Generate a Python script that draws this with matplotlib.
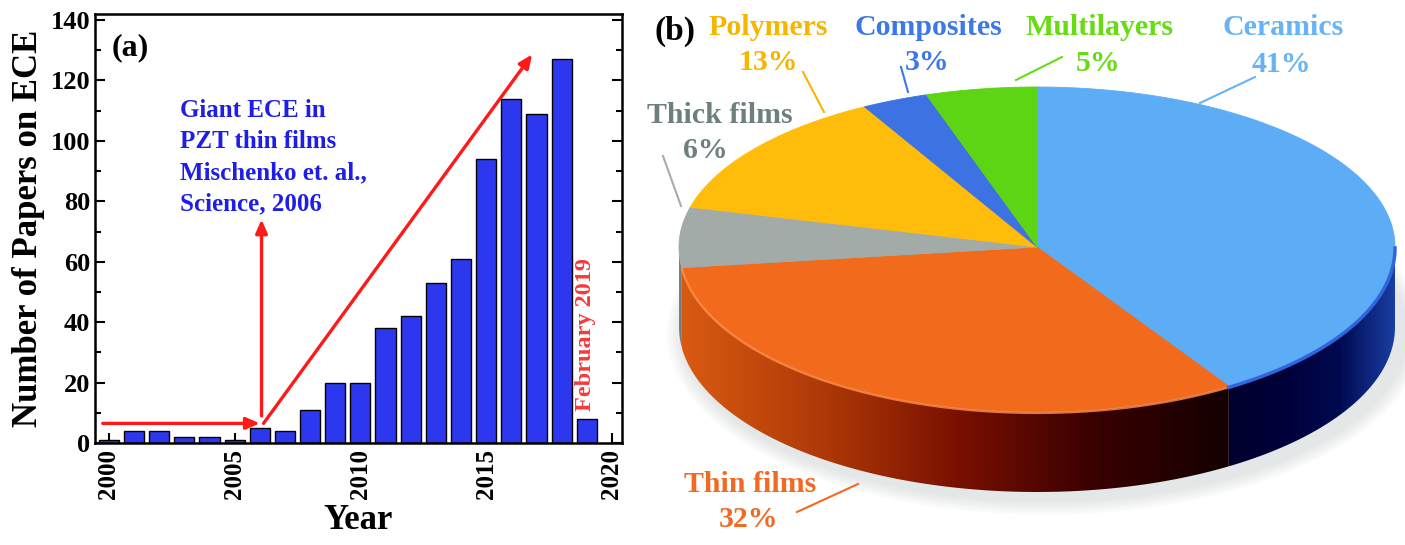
import numpy as np
import matplotlib.pyplot as plt
from matplotlib.patches import Polygon, Ellipse
from matplotlib.colors import LinearSegmentedColormap
from matplotlib.ticker import MultipleLocator

# panel (a): papers per year
years = list(range(2000, 2020))
papers = [1, 4, 4, 2, 2, 1, 5, 4, 11, 20, 20, 38, 42, 53, 61, 94, 114, 109, 127, 8]

# panel (b): share of papers by material type (clockwise from top)
materials = ["Ceramics", "Thin films", "Thick films", "Polymers", "Composites", "Multilayers"]
shares = [41, 32, 6, 13, 3, 5]
top_colors = ["#5dadf6", "#f26a1c", "#a3aba8", "#ffbc0a", "#3d72e3", "#5dd414"]
text_colors = ["#66b3f5", "#f26a22", "#6e7f80", "#f7b500", "#3c78e8", "#66dd11"]

plt.rcParams['font.family'] = 'Liberation Serif'
plt.rcParams['font.weight'] = 'bold'
plt.rcParams['axes.labelweight'] = 'bold'

fig = plt.figure(figsize=(14.05, 5.45), dpi=100)

# ---------------- (a) bar chart ----------------
ax = fig.add_axes([95 / 1405, 102 / 545, 527 / 1405, 429 / 545])
ax.bar(years, papers, width=0.8, color='#2d38ee', edgecolor='black', linewidth=1.0, zorder=2)
ax.set_xlim(1999.45, 2020.4)
ax.set_ylim(0, 142)
ax.set_xticks([2000, 2005, 2010, 2015, 2020])
ax.yaxis.set_major_locator(MultipleLocator(20))
ax.yaxis.set_minor_locator(MultipleLocator(10))
ax.tick_params(axis='y', which='both', direction='in', right=True, labelsize=19, width=1.5)
ax.tick_params(axis='y', which='major', length=7)
ax.tick_params(axis='y', which='minor', length=4)
ax.tick_params(axis='x', direction='in', length=7, width=1.5, labelsize=18, labelrotation=90, pad=4)
for s in ax.spines.values():
    s.set_linewidth(1.8)
ax.set_xlabel("Year", fontsize=25, fontweight='bold', labelpad=4)
ax.set_ylabel("Number of Papers on ECE", fontsize=25, fontweight='bold', labelpad=4)

ax.text(2000.86, 128.5, "(a)", fontsize=23, ha='center', va='baseline')
ax.text(2002.82, 77, "Giant ECE in\nPZT thin films\nMischenko et. al.,\nScience, 2006",
        color='#1e1ee6', fontsize=18, ha='left', va='baseline', linespacing=1.45)
ax.text(2018.95, 10.5, "February 2019", color='#f53a3a', fontsize=17.5, rotation=90,
        ha='center', va='bottom')

arrow = dict(arrowstyle='-|>,head_length=0.8,head_width=0.35', color='#ff1a1a', lw=2.4,
             shrinkA=0, shrinkB=0)
ax.annotate("", xy=(2006.0, 6.5), xytext=(1999.76, 6.5), arrowprops=arrow)
ax.annotate("", xy=(2006.07, 74), xytext=(2006.07, 9), arrowprops=arrow)
ax.annotate("", xy=(2016.83, 128.6), xytext=(2006.15, 6.5), arrowprops=arrow)

# ---------------- (b) 3D pie ----------------
ax2 = fig.add_axes([640 / 1405, 0, 765 / 1405, 1])
ax2.axis('off')

cx, cy, rx, ry_back, ry_front, depth = 1037, 247, 358, 160, 165, 80


def rim(theta_deg, dy=0):
    t = np.radians(np.asarray(theta_deg, dtype=float))
    s = np.sin(t)
    ry = np.where(s > 0, ry_back, ry_front)
    return cx + rx * np.cos(t), cy - ry * s + dy


edges = 90 - 360 * np.concatenate([[0], np.cumsum(shares)]) / sum(shares)

# soft shadow
for k in range(6):
    ax2.add_patch(Ellipse((cx + 8, cy + depth + 6), 2 * rx + 10 + 6 * k, 2 * ry_front + 8 + 5 * k,
                          color='#b9c2c2', alpha=0.07, lw=0, zorder=0))

side_maps = {
    0: LinearSegmentedColormap.from_list("cer", ["#00002e", "#00003a", "#000a50", "#1a3fa5"]),
    1: LinearSegmentedColormap.from_list("thin", ["#d85a12", "#b03a08", "#7a1000", "#3a0000", "#140000"]),
    2: LinearSegmentedColormap.from_list("thick", ["#7c8585", "#6c7474"]),
}
grad = np.linspace(0, 1, 256).reshape(1, -1)

for i in range(len(shares)):
    hi, lo = edges[i], edges[i + 1]
    a, b = max(lo, -180), min(hi, 0)
    if a >= b:
        continue
    th = np.linspace(a, b, 120)
    xt, yt = rim(th)
    xb, yb = rim(th[::-1], depth)
    pts = np.column_stack([np.concatenate([xt, xb]), np.concatenate([yt, yb])])
    poly = Polygon(pts, closed=True, facecolor='none', edgecolor='none', zorder=2)
    ax2.add_patch(poly)
    im = ax2.imshow(grad, cmap=side_maps.get(i, None), aspect='auto', zorder=2,
                    extent=(pts[:, 0].min(), pts[:, 0].max(), pts[:, 1].max(), pts[:, 1].min()))
    im.set_clip_path(poly)

# top face
for i in range(len(shares)):
    th = np.linspace(edges[i], edges[i + 1], 200)
    xt, yt = rim(th)
    pts = np.column_stack([np.concatenate([[cx], xt]), np.concatenate([[cy], yt])])
    ax2.add_patch(Polygon(pts, closed=True, facecolor=top_colors[i], edgecolor=top_colors[i],
                          lw=0.6, zorder=3))

# rim highlights on the front edge
th = np.linspace(edges[2], edges[1], 150)
ax2.plot(*rim(th, 1), color='#ff9250', lw=1.6, alpha=0.8, zorder=4)
th = np.linspace(edges[1], 0, 100)
ax2.plot(*rim(th, 1), color='#2f66dd', lw=2.5, zorder=4)

# labels: (name x, name baseline), (pct x, pct baseline)
name_pos = [(1283, 35), (750, 492), (720, 123), (768, 35), (928, 35), (1099, 35)]
pct_pos = [(1281, 72), (749, 527), (705, 158), (768, 70), (927, 70), (1098, 71)]
leaders = [((1255, 77), (1200, 103)), ((797, 512), (858, 484)), ((663, 156), (681, 206)),
           ((803, 72), (824, 112)), ((901, 67), (908, 92)), ((1062, 57), (1016, 80))]
line_colors = ["#66b3f5", "#f26a22", "#a5adad", "#f7b500", "#3c78e8", "#66dd11"]
for i, name in enumerate(materials):
    ax2.text(*name_pos[i], name, color=text_colors[i], fontsize=21.5, ha='center', va='baseline', zorder=5)
    ax2.text(*pct_pos[i], f"{shares[i]}%", color=text_colors[i], fontsize=21.5, ha='center',
             va='baseline', zorder=5)
    (x0, y0), (x1, y1) = leaders[i]
    ax2.plot([x0, x1], [y0, y1], color=line_colors[i], lw=1.5, zorder=5)

ax2.text(675, 40, "(b)", fontsize=24, ha='center', va='baseline', zorder=5)

ax2.set_xlim(640, 1405)
ax2.set_ylim(545, 0)

fig.savefig("out.png", dpi=100)
